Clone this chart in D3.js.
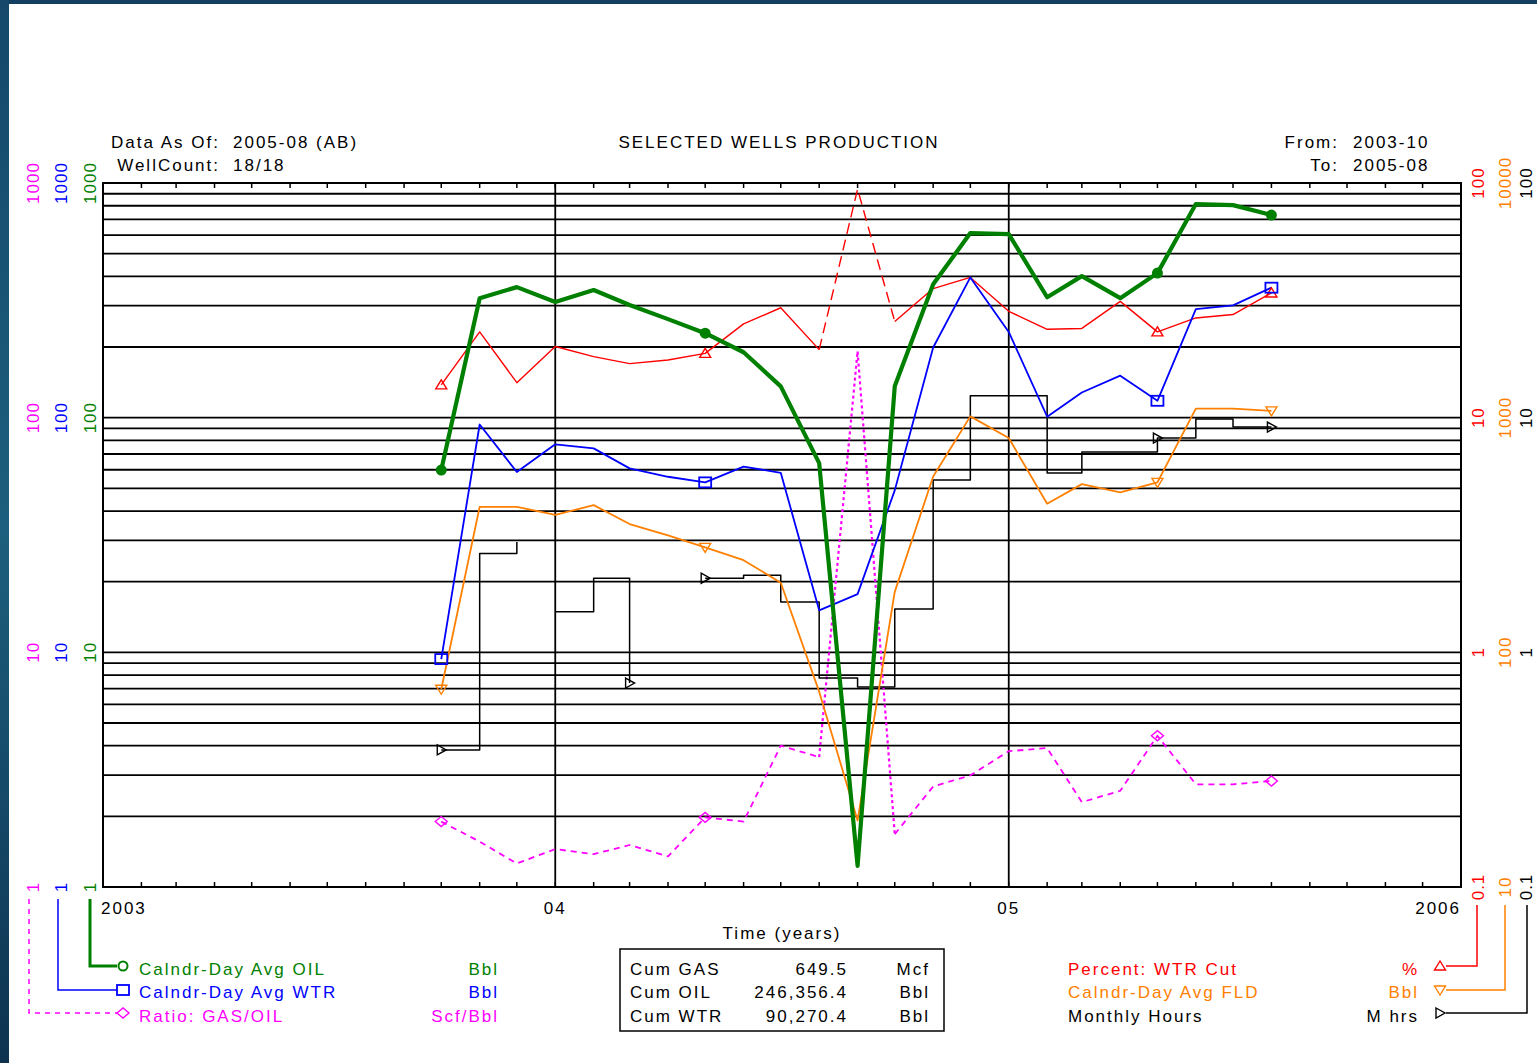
<!DOCTYPE html>
<html><head><meta charset="utf-8">
<script src="https://cdn.jsdelivr.net/npm/d3@7"></script>
<style>
html,body{margin:0;padding:0;background:#fff;overflow:hidden;}
svg{display:block;}
text{font-family:"Liberation Sans",Arial,sans-serif;font-size:17px;letter-spacing:2px;}
</style></head><body>
<svg id="c" width="1537" height="1063"></svg>
<script>
// ---------- DATA ----------
const months = ["2003-10","2003-11","2003-12","2004-01","2004-02","2004-03","2004-04","2004-05","2004-06","2004-07","2004-08","2004-09","2004-10","2004-11","2004-12","2005-01","2005-02","2005-03","2005-04","2005-05","2005-06","2005-07","2005-08"];
const oilBbl  = [59.8,323,360,311,350,302,263,229,190,136,64,1.23,136,370,612,606,326,401,323,413,813,805,730];
const wtrBbl  = [9.36,93.5,58.7,77,74,60.8,56,53,61.9,58.2,15.1,17.7,49,199,396,232,101,128,151,118,290,301,358];
const gasOilRatio = [1.90,1.56,1.26,1.45,1.38,1.51,1.35,1.98,1.90,4.0,3.58,192,1.68,2.68,2.99,3.79,3.91,2.30,2.57,4.41,2.74,2.74,2.83];
const wtrCutPct = [13.8,23.2,14.1,20.1,18.2,17.0,17.6,18.8,25.1,29.4,19.5,94.2,25.7,35.5,39.6,28.4,23.8,24.0,31.3,23.2,26.6,27.5,34.0];
const fldBbl  = [69.6,417,417,385,424,352,315,280,247,198,68,19.2,181,561,1013,819,430,521,480,530,1092,1092,1069];
const hoursM  = [0.384,2.64,2.95,1.49,2.07,0.74,null,2.07,2.13,1.64,0.777,0.711,1.53,5.42,12.4,12.4,5.81,7.14,7.14,8.19,9.86,9.12,9.12];
const hoursBreakBefore = [3];
const markerIdx = [0,7,19,22];
const hoursMarkerIdx = [0,5,7,19,22];
const brokenSegs = [10,11];           // segments drawn with dashes (start index)

const leftTicks  = [1,10,100,1000];
const cutTicks   = [0.1,1,10,100];
const fldTicks   = [10,100,1000,10000];
const hrsTicks   = [0.1,1,10,100];
const yearTicks  = ["2003","2004","2005","2006"];
const yearLabels = ["2003","04","05","2006"];

const cumRows  = ["Cum GAS","Cum OIL","Cum WTR"];
const cumVals  = ["649.5","246,356.4","90,270.4"];
const cumUnits = ["Mcf","Bbl","Bbl"];

// ---------- SETUP ----------
const svg = d3.select("#c");
const L=103,R=1461,T=183,B=887;
const pm = d3.timeParse("%Y-%m"), py = d3.timeParse("%Y");
const x = d3.scaleTime().domain([py("2003"),py("2006")]).range([L,R]);
const yL = d3.scaleLog().domain([1,1000]).range([B,T]);
const yCut = d3.scaleLog().domain([0.1,100]).range([B,T]);
const yFld = d3.scaleLog().domain([10,10000]).range([B,T]);
const yHrs = d3.scaleLog().domain([0.1,100]).range([B,T]);
const C = {oil:"#008000",wtr:"#0000ff",gor:"#ff00ff",cut:"#ff0000",fld:"#ff8000",hrs:"#000000"};

// frame
const defs = svg.append("defs");
const g1 = defs.append("linearGradient").attr("id","sb").attr("x1",0).attr("y1",0).attr("x2",0).attr("y2",1);
g1.append("stop").attr("offset","0").attr("stop-color","#15486b");
g1.append("stop").attr("offset","0.5").attr("stop-color","#1d5f7e");
g1.append("stop").attr("offset","1").attr("stop-color","#0d3350");
svg.append("rect").attr("x",0).attr("y",0).attr("width",1537).attr("height",4).attr("fill","#123f60");
svg.append("rect").attr("x",0).attr("y",0).attr("width",9).attr("height",1063).attr("fill","url(#sb)");

// grid
const grid = svg.append("g").attr("stroke","#000").attr("stroke-width",1.8);
const gridVals = [];
[1,10,100].forEach(d=>{for(let k=1;k<=9;k++) gridVals.push(k*d);});
gridVals.push(1000);
grid.selectAll("line.h").data(gridVals).join("line")
  .attr("x1",L).attr("x2",R).attr("y1",d=>yL(d)).attr("y2",d=>yL(d));
grid.selectAll("line.v").data(yearTicks.slice(1,3)).join("line")
  .attr("x1",d=>x(py(d))).attr("x2",d=>x(py(d))).attr("y1",T).attr("y2",B);
svg.append("rect").attr("x",L).attr("y",T).attr("width",R-L).attr("height",B-T)
  .attr("fill","none").attr("stroke","#000").attr("stroke-width",2);
// month ticks
const mt = d3.timeMonth.range(py("2003"),py("2006"));
svg.append("g").attr("stroke","#000").attr("stroke-width",1.5).selectAll("line").data(mt).join("line")
  .attr("x1",d=>x(d)).attr("x2",d=>x(d)).attr("y1",T).attr("y2",T+5);
svg.append("g").attr("stroke","#000").attr("stroke-width",1.5).selectAll("line").data(mt).join("line")
  .attr("x1",d=>x(d)).attr("x2",d=>x(d)).attr("y1",B).attr("y2",B-5);

// x labels
svg.append("g").selectAll("text").data(yearTicks).join("text")
  .attr("x",(d,i)=>x(py(d)) + (i===0?-2:(i===3?0:0)))
  .attr("y",914)
  .attr("text-anchor",(d,i)=>i===0?"start":(i===3?"end":"middle"))
  .text((d,i)=>yearLabels[i]);
svg.append("text").attr("x",(L+R)/2).attr("y",939).attr("text-anchor","middle").text("Time (years)");

// header
svg.append("text").attr("x",220).attr("y",148).attr("text-anchor","end").text("Data As Of:");
svg.append("text").attr("x",233).attr("y",148).text("2005-08 (AB)");
svg.append("text").attr("x",220).attr("y",171).attr("text-anchor","end").text("WellCount:");
svg.append("text").attr("x",233).attr("y",171).text("18/18");
svg.append("text").attr("x",779).attr("y",148).attr("text-anchor","middle").text("SELECTED WELLS PRODUCTION");
svg.append("text").attr("x",1339).attr("y",148).attr("text-anchor","end").text("From:");
svg.append("text").attr("x",1353).attr("y",148).text("2003-10");
svg.append("text").attr("x",1339).attr("y",171).attr("text-anchor","end").text("To:");
svg.append("text").attr("x",1353).attr("y",171).text("2005-08");

// vertical axis labels
function vAxis(ticks, scale, xp, color){
  svg.append("g").selectAll("text").data(ticks).join("text")
    .attr("transform",d=>`translate(${xp},${scale(d)}) rotate(-90)`)
    .attr("text-anchor","middle").attr("dominant-baseline","central")
    .attr("fill",color).style("letter-spacing","1px")
    .text(d=>d3.format("~g")(d));
}
const hrsAxisX = 1526;
vAxis(leftTicks,yL,33,C.gor);
vAxis(leftTicks,yL,61,C.wtr);
vAxis(leftTicks,yL,90,C.oil);
vAxis(cutTicks,yCut,1478,C.cut);
vAxis(fldTicks,yFld,1505,C.fld);
vAxis(hrsTicks,yHrs,hrsAxisX,C.hrs);

// ---------- SERIES ----------
const pts = (vals,scale)=>months.map((m,i)=>({i, x:x(pm(m)), y: vals[i]==null?null:scale(vals[i])}));
function runs(p, breaks, styleOf){
  const out=[]; let cur=null;
  for(let i=0;i<p.length-1;i++){
    const a=p[i], b=p[i+1];
    if(a.y==null||b.y==null||breaks.includes(i+1)){cur=null;continue;}
    const st=styleOf(i);
    if(cur && cur.st===st){cur.pts.push(b);} else {cur={st,pts:[a,b]};out.push(cur);}
  }
  return out;
}
function drawLine(vals, scale, color, width, opts){
  const p = pts(vals,scale);
  const rr = runs(p, opts.breaks||[], opts.styleOf||(()=>"s"));
  const line = d3.line().x(d=>d.x).y(d=>d.y).curve(opts.curve||d3.curveLinear);
  svg.append("g").selectAll("path").data(rr).join("path")
    .attr("d",r=>line(r.pts)).attr("fill","none").attr("stroke",color)
    .attr("stroke-width",r=>opts.widthOf?opts.widthOf(r.st):width).attr("stroke-linejoin","round")
    .attr("stroke-dasharray",r=>opts.dash?opts.dash(r.st):null);
  return p;
}
function marker(g, type, cx, cy, color, fill){
  if(type==="circle") g.append("circle").attr("cx",cx).attr("cy",cy).attr("r",4.5).attr("fill",fill||color).attr("stroke",color).attr("stroke-width",2);
  else if(type==="square") g.append("rect").attr("x",cx-6).attr("y",cy-5).attr("width",12).attr("height",10).attr("fill","none").attr("stroke",color).attr("stroke-width",1.8);
  else if(type==="diamond") g.append("path").attr("d",`M${cx-6},${cy}L${cx},${cy-5}L${cx+6},${cy}L${cx},${cy+5}Z`).attr("fill","none").attr("stroke",color).attr("stroke-width",1.4);
  else if(type==="up") g.append("path").attr("d",`M${cx-5.5},${cy+4}L${cx},${cy-5}L${cx+5.5},${cy+4}Z`).attr("fill","none").attr("stroke",color).attr("stroke-width",1.4);
  else if(type==="down") g.append("path").attr("d",`M${cx-5.5},${cy-4}L${cx},${cy+5}L${cx+5.5},${cy-4}Z`).attr("fill","none").attr("stroke",color).attr("stroke-width",1.4);
  else if(type==="right") g.append("path").attr("d",`M${cx-4},${cy-5}L${cx+5},${cy}L${cx-4},${cy+5}Z`).attr("fill","none").attr("stroke",color).attr("stroke-width",1.4);
}
function drawMarkers(p, idx, type, color, fill){
  const g=svg.append("g");
  idx.forEach(i=>{ if(p[i].y!=null) marker(g,type,p[i].x,p[i].y,color,fill); });
}

const pGor = drawLine(gasOilRatio,yL,C.gor,1.8,{styleOf:i=>brokenSegs.includes(i)?"d":"s",dash:s=>s==="d"?"3,3":"6,5",widthOf:s=>s==="d"?2.2:1.8});
const pHrs = drawLine(hoursM,yHrs,C.hrs,1.5,{curve:d3.curveStepAfter,breaks:hoursBreakBefore});
const pFld = drawLine(fldBbl,yFld,C.fld,1.8,{});
const pCut = drawLine(wtrCutPct,yCut,C.cut,1.4,{styleOf:i=>brokenSegs.includes(i)?"d":"s",dash:s=>s==="d"?"11,6":null});
const pWtr = drawLine(wtrBbl,yL,C.wtr,1.8,{});
const pOil = drawLine(oilBbl,yL,C.oil,4.2,{});

drawMarkers(pGor,markerIdx,"diamond",C.gor);
drawMarkers(pHrs,hoursMarkerIdx,"right",C.hrs);
drawMarkers(pFld,markerIdx,"down",C.fld);
drawMarkers(pCut,markerIdx,"up",C.cut);
drawMarkers(pWtr,markerIdx,"square",C.wtr);
drawMarkers(pOil,markerIdx,"circle",C.oil);

// ---------- LEGEND ----------
const rowY=[975,998,1022], rowMid=[966,990,1013];
const leftLeg = [
  {name:"Calndr-Day Avg OIL",unit:"Bbl",color:C.oil,ax:90,type:"circle",w:3,dash:null},
  {name:"Calndr-Day Avg WTR",unit:"Bbl",color:C.wtr,ax:58,type:"square",w:1.5,dash:null},
  {name:"Ratio: GAS/OIL",unit:"Scf/Bbl",color:C.gor,ax:29,type:"diamond",w:1.5,dash:"5,5"}
];
leftLeg.forEach((d,i)=>{
  const g=svg.append("g");
  g.append("path").attr("d",`M${d.ax},${B+12}V${rowMid[i]}H${117}`).attr("fill","none")
    .attr("stroke",d.color).attr("stroke-width",d.w).attr("stroke-dasharray",d.dash);
  marker(g,d.type,123,rowMid[i],d.color,"#fff");
  g.append("text").attr("x",139).attr("y",rowY[i]).attr("fill",d.color).text(d.name);
  g.append("text").attr("x",499).attr("y",rowY[i]).attr("fill",d.color).attr("text-anchor","end").text(d.unit);
});
const rightLeg = [
  {name:"Percent: WTR Cut",unit:"%",color:C.cut,ax:1477,type:"up"},
  {name:"Calndr-Day Avg FLD",unit:"Bbl",color:C.fld,ax:1505,type:"down"},
  {name:"Monthly Hours",unit:"M hrs",color:C.hrs,ax:hrsAxisX+1,type:"right"}
];
rightLeg.forEach((d,i)=>{
  const g=svg.append("g");
  g.append("path").attr("d",`M${d.ax},${B+18}V${rowMid[i]}H${1446}`).attr("fill","none")
    .attr("stroke",d.color).attr("stroke-width",1.5);
  marker(g,d.type,1440,rowMid[i],d.color,"#fff");
  g.append("text").attr("x",1068).attr("y",rowY[i]).attr("fill",d.color).text(d.name);
  g.append("text").attr("x",1419).attr("y",rowY[i]).attr("fill",d.color).attr("text-anchor","end").text(d.unit);
});

// cum box
svg.append("rect").attr("x",620).attr("y",949).attr("width",324).attr("height",82)
  .attr("fill","none").attr("stroke","#000").attr("stroke-width",1.5);
cumRows.forEach((r,i)=>{
  svg.append("text").attr("x",630).attr("y",rowY[i]).text(r);
  svg.append("text").attr("x",848).attr("y",rowY[i]).attr("text-anchor","end").text(cumVals[i]);
  svg.append("text").attr("x",930).attr("y",rowY[i]).attr("text-anchor","end").text(cumUnits[i]);
});
</script>
</body></html>
